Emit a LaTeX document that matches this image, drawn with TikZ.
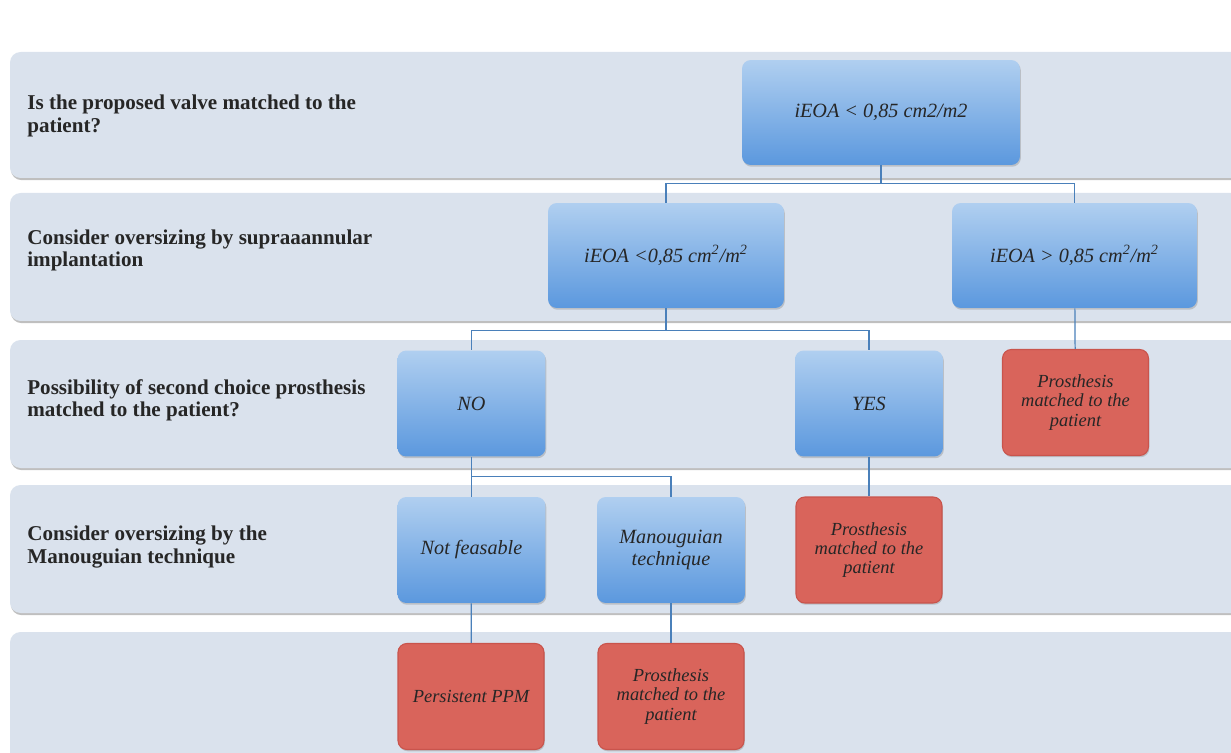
\documentclass[tikz,border=0pt]{standalone}
\usepackage{fontspec}
\setmainfont{Liberation Serif}
\usetikzlibrary{shadows}

\definecolor{bandfill}{HTML}{DAE2ED}
\definecolor{boxtop}{HTML}{B0CFF0}
\definecolor{boxbottom}{HTML}{5B98DE}
\definecolor{outfill}{HTML}{D9645B}
\definecolor{outedge}{HTML}{C9544C}
\definecolor{linkblue}{HTML}{4A80BA}

\begin{document}
\begin{tikzpicture}[
    x=0.02cm, y=-0.02cm,
    % rows behind the chart
    band/.style={fill=bandfill, rounded corners=6pt,
      drop shadow={shadow xshift=0.5pt, shadow yshift=-1.2pt, opacity=.5}},
    % question at the left of each row
    question/.style={anchor=west, inner sep=0pt, align=left,
      font=\fontsize{12}{12.6}\selectfont\bfseries, text=black!85},
    % blue decision boxes
    choice/.style={rounded corners=5pt, top color=boxtop, bottom color=boxbottom,
      minimum width=2.96cm, minimum height=2.12cm, align=center,
      font=\fontsize{11.5}{13}\selectfont\itshape, text=black!85,
      drop shadow={shadow xshift=0.5pt, shadow yshift=-1pt, opacity=.35}},
    % red end boxes
    outcome/.style={rounded corners=5pt, fill=outfill, draw=outedge, line width=0.6pt,
      minimum width=2.92cm, minimum height=2.12cm, align=center,
      font=\fontsize{10.5}{11}\selectfont\itshape, text=black!85,
      drop shadow={shadow xshift=0.5pt, shadow yshift=-1pt, opacity=.35}},
    link/.style={draw=linkblue, line width=0.7pt},
  ]
  \useasboundingbox (0,0) rectangle (1231,753);
  \clip (0,0) rectangle (1231,753);

  \foreach \ya/\yb in {52/178,193/321,340/468,485/613,632/790}
    \path[band] (10,\ya) rectangle (1262,\yb);

  \node[question] (q1) at (27,116) {Is the proposed valve matched to the\\patient?};
  \node[question] (q2) at (27,250) {Consider oversizing by supraaannular\\implantation};
  \node[question] (q3) at (27,400) {Possibility of second choice prosthesis\\matched to the patient?};
  \node[question] (q4) at (27,547) {Consider oversizing by the\\Manouguian technique};

  \node[choice, minimum width=5.56cm, minimum height=2.1cm] (start) at (881,112.5) {iEOA < 0,85 cm2/m2};
  \node[choice, minimum width=4.72cm, minimum height=2.1cm] (low) at (666,255.5)
    {iEOA <0,85 cm\textsuperscript{2}/m\textsuperscript{2}};
  \node[choice, minimum width=4.9cm, minimum height=2.1cm] (high) at (1074.5,255.5)
    {iEOA > 0,85 cm\textsuperscript{2}/m\textsuperscript{2}};

  \node[choice] (no) at (471.5,403.5) {NO};
  \node[choice] (yes) at (869,403.5) {YES};
  \node[outcome] (okhigh) at (1075.5,402.5) {Prosthesis\\matched to the\\patient};

  \node[choice] (notfeas) at (471.5,550) {Not feasable};
  \node[choice] (manoug) at (671,550) {Manouguian\\technique};
  \node[outcome] (okyes) at (869,550) {Prosthesis\\matched to the\\patient};

  \node[outcome] (ppm) at (471,696.5) {Persistent PPM};
  \node[outcome] (okmanoug) at (671,696.5) {Prosthesis\\matched to the\\patient};

  % forks between the rows
  \draw[link] (start.south) -- ++(0,18) -| (low.north);
  \draw[link] (start.south) -- ++(0,18) -| (high.north);
  \draw[link] (low.south) -- ++(0,22) -| (no.north);
  \draw[link] (low.south) -- ++(0,22) -| (yes.north);
  \draw[link] (high) -- (okhigh);
  \draw[link] (no.south) -- ++(0,20) -| (notfeas.north);
  \draw[link] (no.south) -- ++(0,20) -| (manoug.north);
  \draw[link] (yes) -- (okyes);
  \draw[link] (notfeas) -- (ppm);
  \draw[link] (manoug) -- (okmanoug);
\end{tikzpicture}
\end{document}
